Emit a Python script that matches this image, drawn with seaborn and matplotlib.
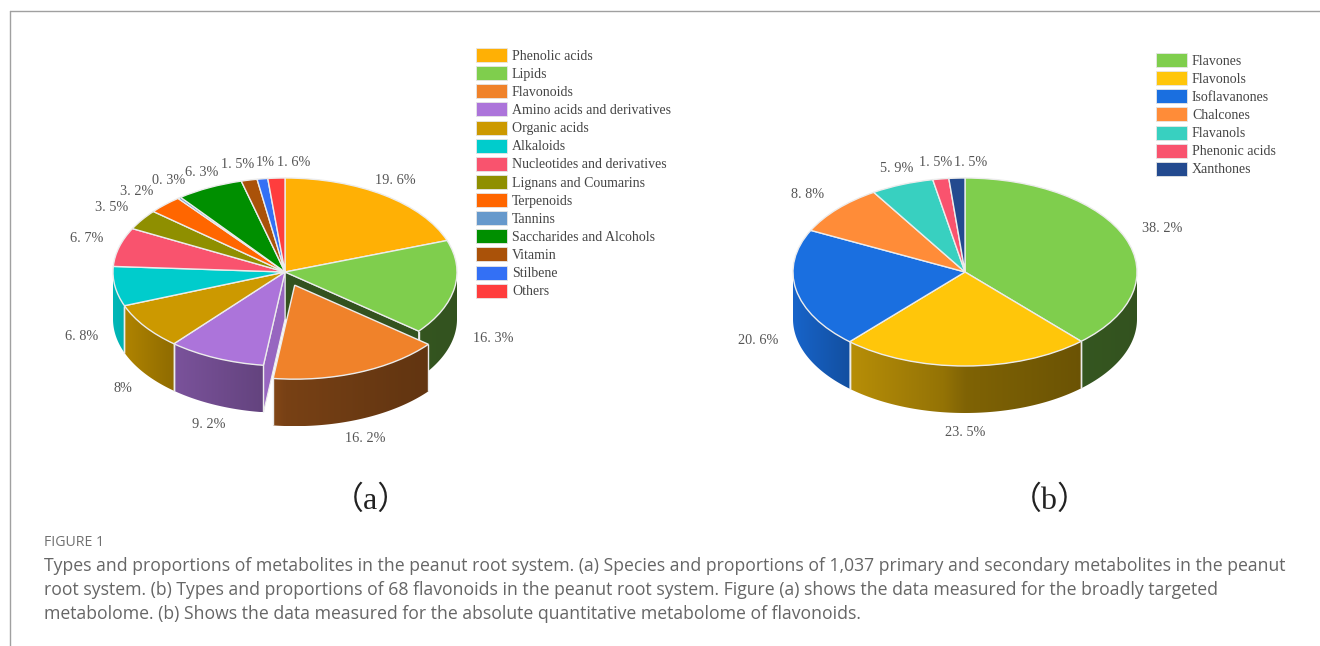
import numpy as np
import matplotlib
matplotlib.use("Agg")
import matplotlib.pyplot as plt
from matplotlib.colors import to_rgb
from matplotlib.patches import Patch, Polygon
import seaborn as sns

# Metabolite classes in the peanut root system
classes_a = ["Phenolic acids", "Lipids", "Flavonoids", "Amino acids and derivatives",
             "Organic acids", "Alkaloids", "Nucleotides and derivatives",
             "Lignans and Coumarins", "Terpenoids", "Tannins",
             "Saccharides and Alcohols", "Vitamin", "Stilbene", "Others"]
shares_a = [19.6, 16.3, 16.2, 9.2, 8, 6.8, 6.7, 3.5, 3.2, 0.3, 6.3, 1.5, 1, 1.6]
colors_a = ["#FFB005", "#7FCE4D", "#F0822A", "#AC74DA", "#CC9900", "#00CCCC", "#F9536E",
            "#8F8F00", "#FF6600", "#6699CC", "#008F00", "#AA5209", "#3370F5", "#FF3D3D"]

# Flavonoid sub-classes
classes_b = ["Flavones", "Flavonols", "Isoflavanones", "Chalcones", "Flavanols",
             "Phenonic acids", "Xanthones"]
shares_b = [38.2, 23.5, 20.6, 8.8, 5.9, 1.5, 1.5]
colors_b = ["#7FCE4D", "#FFC60A", "#1A6FE0", "#FF8C38", "#38D0C0", "#F9536E", "#234A8F"]

# Value label centres, in pixels from the top-left corner
label_xy_a = [(395, 181), (493, 339), (365, 438), (209, 424), (123, 388), (82, 336), (87, 238),
              (112, 208), (137, 191), (169, 180), (202, 173), (238, 164), (265, 163), (294, 162)]
label_xy_b = [(1162, 228), (965, 432.5), (758, 340), (808, 195), (897, 168), (936, 163), (971, 162)]

caption_lines = [
    "Types and proportions of metabolites in the peanut root system. (a) Species and proportions of 1,037 primary and secondary metabolites in the peanut",
    "root system. (b) Types and proportions of 68 flavonoids in the peanut root system. Figure (a) shows the data measured for the broadly targeted",
    "metabolome. (b) Shows the data measured for the absolute quantitative metabolome of flavonoids.",
]

W, H = 1320, 646
RX, RY, DEPTH = 172, 94, 47
EDGE = "#ECECEC"
SERIF = ["Liberation Serif", "DejaVu Serif"]

sns.set_theme(style="white")
plt.rcParams["font.family"] = SERIF
fig = plt.figure(figsize=(W / 100, H / 100), dpi=100, facecolor="white")


def fx(x):
    return x / W


def fy(y):
    return 1 - y / H


def wall_shade(x):
    # Side walls get darker from left to right across the pie
    return np.interp(x, [-1.0, -0.68, -0.13, 0.0, 0.68, 1.0], [0.90, 0.72, 0.58, 0.50, 0.42, 0.40])


def draw_wall(ax, pts, color, zorder):
    x0, x1 = pts[:, 0].min(), pts[:, 0].max()
    y0, y1 = pts[:, 1].min(), pts[:, 1].max()
    xs = np.linspace(x0, x1, 128)
    img = (np.array(to_rgb(color))[None, None, :] * wall_shade(xs)[None, :, None]).clip(0, 1)
    im = ax.imshow(img, extent=(x0, x1, y0, y1), aspect="auto", origin="lower",
                   interpolation="bilinear", zorder=zorder)
    im.set_clip_path(Polygon(pts, closed=True, transform=ax.transData))


def pie3d(cx, cy, shares, colors, explode_index=None, explode=0.151):
    ax = fig.add_axes([0, 0, 1, 1], facecolor="none")
    pull = [explode if i == explode_index else 0 for i in range(len(shares))]
    wedges, _ = ax.pie(shares, colors=colors, startangle=90, counterclock=False, explode=pull,
                       radius=1, wedgeprops=dict(edgecolor=EDGE, linewidth=1.0))
    ax.set_aspect("auto")
    depth = DEPTH / RY
    edges = np.cumsum([0] + list(shares)) / sum(shares) * 360

    for i, (wedge, color) in enumerate(zip(wedges, colors)):
        t0, t1 = edges[i], edges[i + 1]
        mid = np.radians((t0 + t1) / 2)
        ox, oy = pull[i] * np.sin(mid), pull[i] * np.cos(mid)
        base = 10 if i == explode_index else 2
        wedge.set_zorder(base + 2)

        # Outer rim: only the front half of the pie is visible
        a0, a1 = max(t0, 90), min(t1, 270)
        if a1 > a0:
            th = np.radians(np.linspace(a0, a1, 90))
            xs, ys = ox + np.sin(th), oy + np.cos(th)
            pts = np.vstack([np.column_stack([xs, ys]),
                             np.column_stack([xs[::-1], ys[::-1] - depth])])
            draw_wall(ax, pts, color, base)
            for a, x, y in ((a0, xs[0], ys[0]), (a1, xs[-1], ys[-1])):
                if 90 < a < 270:
                    ax.plot([x, x], [y, y - depth], color=EDGE, lw=1.0, zorder=base + 1,
                            solid_capstyle="butt")

    # Radial faces uncovered by the pulled-out slice
    if explode_index is not None:
        for i, t, k in ((explode_index - 1, edges[explode_index], 0.40),
                        (explode_index + 1, edges[explode_index + 1], 0.88)):
            th = np.radians(t)
            x, y = np.sin(th), np.cos(th)
            face = np.array([(0, 0), (x, y), (x, y - depth), (0, -depth)])
            rgb = np.array(to_rgb(colors[i])) * k
            ax.add_patch(Polygon(face, closed=True, facecolor=rgb, edgecolor=EDGE, lw=0.8, zorder=1))

    ax.set_xlim(-cx / RX, (W - cx) / RX)
    ax.set_ylim((cy - H) / RY, cy / RY)
    ax.set_xticks([])
    ax.set_yticks([])
    ax.set_frame_on(False)


def value_labels(shares, positions):
    for v, (x, y) in zip(shares, positions):
        text = f"{v:g}%".replace(".", ". ")
        fig.text(fx(x), fy(y), text, ha="center", va="center", fontsize=10.3, color="#555555")


def add_legend(classes, colors, x, y):
    handles = [Patch(facecolor=c, edgecolor="#E6E6E6", linewidth=0.6, label=n)
               for n, c in zip(classes, colors)]
    fs = 9.97
    fs_px = fs * 100 / 72
    fig.legend(handles=handles, loc="upper left", bbox_to_anchor=(fx(x), fy(y)),
               bbox_transform=fig.transFigure, frameon=False, fontsize=fs, labelcolor="#444444",
               borderpad=0, borderaxespad=0, handlelength=31 / fs_px, handleheight=1.18,
               handletextpad=5 / fs_px, labelspacing=3.44 / fs_px)


pie3d(285, 272, shares_a, colors_a, explode_index=2)
pie3d(965, 272, shares_b, colors_b)
value_labels(shares_a, label_xy_a)
value_labels(shares_b, label_xy_b)
add_legend(classes_a, colors_a, 476, 48)
add_legend(classes_b, colors_b, 1156, 53)

panel_font = ["Liberation Serif", "Noto Sans CJK SC"]
fig.text(fx(371), fy(501), "（a）", ha="center", va="center", fontsize=23, color="#222222", family=panel_font)
fig.text(fx(1050), fy(501), "（b）", ha="center", va="center", fontsize=23, color="#222222", family=panel_font)

fig.text(fx(44), fy(542.5), "FIGURE 1", ha="left", va="center", fontsize=10.2, color="#707070", family="Open Sans")
for line, y in zip(caption_lines, (566, 590, 614)):
    fig.text(fx(44), fy(y), line, ha="left", va="center", fontsize=12.72, color="#666666", family="Open Sans")

# Page rules along the top and left of the figure panel
fig.add_artist(plt.Line2D([fx(10), 1], [fy(11), fy(11)], color="#A0A0A0", lw=1))
fig.add_artist(plt.Line2D([fx(10), fx(10)], [fy(11), 0], color="#A0A0A0", lw=1))

fig.savefig("out.png", dpi=100, facecolor="white")
